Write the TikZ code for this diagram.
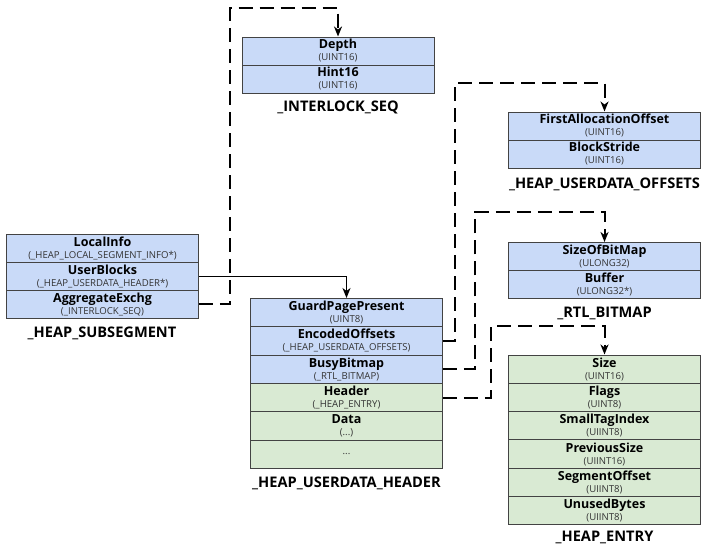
\documentclass[tikz,border=0pt]{standalone}
\usepackage{fontspec}
\setmainfont{Open Sans}
\usetikzlibrary{arrows.meta}
\definecolor{fblue}{HTML}{C9DAF8}
\definecolor{fgreen}{HTML}{D9EAD3}
\definecolor{edge}{HTML}{434343}
\newcommand{\fname}[1]{{\fontsize{12.5}{13}\selectfont\bfseries #1}}
\newcommand{\ftype}[1]{{\fontsize{9.6}{10.5}\selectfont\color{black!80} #1}}
\begin{document}
\begin{tikzpicture}[x=1pt,y=-1pt,
  field/.style={draw=edge, line width=0.9pt, minimum width=192, minimum height=28.3,
    inner sep=0pt, align=center, anchor=north},
  bluefield/.style={field, fill=fblue},
  greenfield/.style={field, fill=fgreen},
  title/.style={font=\fontsize{14.6}{17}\selectfont\bfseries, anchor=center},
  tip/.tip={Stealth[length=10pt,width=8pt,inset=3pt]},
  ptr/.style={line width=1.5pt, -tip},
  dptr/.style={line width=2pt, dash pattern=on 14pt off 7pt, -tip}]
\useasboundingbox (0,0) rectangle (706,547);

% _HEAP_SUBSEGMENT
\node[bluefield, minimum height=28] (ss1) at (102.5,234) {\fname{LocalInfo}\\\ftype{(\_HEAP\_LOCAL\_SEGMENT\_INFO*)}};
\node[bluefield, minimum height=28] (ss2) at (102.5,262) {\fname{UserBlocks}\\\ftype{(\_HEAP\_USERDATA\_HEADER*)}};
\node[bluefield, minimum height=28] (ss3) at (102.5,290) {\fname{AggregateExchg}\\\ftype{(\_INTERLOCK\_SEQ)}};
\node[title] (ssT) at (102,333) {\_HEAP\_SUBSEGMENT};

% _INTERLOCK_SEQ
\node[bluefield, minimum height=28] (is1) at (338,36.5) {\fname{Depth}\\\ftype{(UINT16)}};
\node[bluefield, minimum height=28] (is2) at (338,64.5) {\fname{Hint16}\\\ftype{(UINT16)}};
\node[title] (isT) at (338,107) {\_INTERLOCK\_SEQ};

% _HEAP_USERDATA_HEADER
\node[bluefield] (uh1) at (346.5,298) {\fname{GuardPagePresent}\\\ftype{(UINT8)}};
\node[bluefield] (uh2) at (346.5,326.3) {\fname{EncodedOffsets}\\\ftype{(\_HEAP\_USERDATA\_OFFSETS)}};
\node[bluefield] (uh3) at (346.5,354.6) {\fname{BusyBitmap}\\\ftype{(\_RTL\_BITMAP)}};
\node[greenfield] (uh4) at (346.5,382.9) {\fname{Header}\\\ftype{(\_HEAP\_ENTRY)}};
\node[greenfield] (uh5) at (346.5,411.2) {\fname{Data}\\\ftype{(...)}};
\node[greenfield] (uh6) at (346.5,439.5) {\ftype{...}};
\node[title] (uhT) at (346.5,483) {\_HEAP\_USERDATA\_HEADER};

% _HEAP_USERDATA_OFFSETS
\node[bluefield, minimum height=28] (uo1) at (604.5,111.5) {\fname{FirstAllocationOffset}\\\ftype{(UINT16)}};
\node[bluefield, minimum height=28] (uo2) at (604.5,139.5) {\fname{BlockStride}\\\ftype{(UINT16)}};
\node[title] (uoT) at (604.5,184) {\_HEAP\_USERDATA\_OFFSETS};

% _RTL_BITMAP
\node[bluefield, minimum height=28] (rb1) at (604.5,242) {\fname{SizeOfBitMap}\\\ftype{(ULONG32)}};
\node[bluefield, minimum height=28] (rb2) at (604.5,270) {\fname{Buffer}\\\ftype{(ULONG32*)}};
\node[title] (rbT) at (604.5,313) {\_RTL\_BITMAP};

% _HEAP_ENTRY
\node[greenfield] (he1) at (604.5,354.5) {\fname{Size}\\\ftype{(UINT16)}};
\node[greenfield] (he2) at (604.5,382.8) {\fname{Flags}\\\ftype{(UINT8)}};
\node[greenfield] (he3) at (604.5,411.1) {\fname{SmallTagIndex}\\\ftype{(UIINT8)}};
\node[greenfield] (he4) at (604.5,439.4) {\fname{PreviousSize}\\\ftype{(UIINT16)}};
\node[greenfield] (he5) at (604.5,467.7) {\fname{SegmentOffset}\\\ftype{(UIINT8)}};
\node[greenfield] (he6) at (604.5,496.0) {\fname{UnusedBytes}\\\ftype{(UIINT8)}};
\node[title] (heT) at (604.5,537) {\_HEAP\_ENTRY};

% bends of the pointer connectors
\coordinate (bIS) at (230,8);
\coordinate (bUO) at (455,83);
\coordinate (bRB) at (475,212);
\coordinate (bHE) at (491,326);

% pointers
\draw[ptr] (ss2.east) -| (uh1.north);
\draw[dptr] (ss3.east) -| (bIS) -| (is1.north);
\draw[dptr] (uh2.east) -| (bUO) -| (uo1.north);
\draw[dptr] (uh3.east) -| (bRB) -| (rb1.north);
\draw[dptr] (uh4.east) -| (bHE) -| (he1.north);
\end{tikzpicture}
\end{document}
